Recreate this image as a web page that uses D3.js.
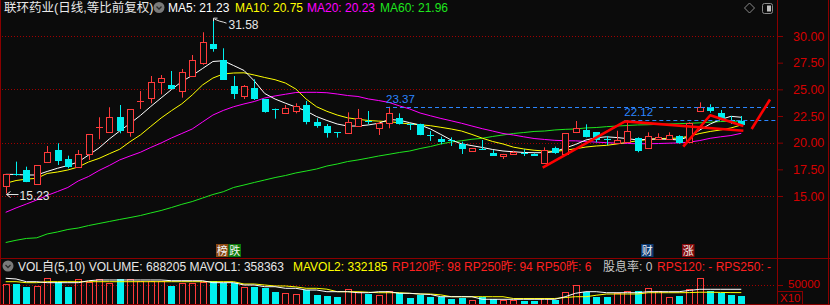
<!DOCTYPE html>
<html><head><meta charset="utf-8">
<script src="https://cdn.jsdelivr.net/npm/d3@7"></script>
<style>
html,body{margin:0;padding:0;background:#0b0b0b;overflow:hidden}
svg{display:block}
text{font-family:"Liberation Sans","Noto Sans CJK SC",sans-serif}
</style></head><body>
<svg id="c" width="830" height="305"></svg>
<script>
// ---------------- DATA ----------------
const stockTitle = "联环药业(日线,等比前复权)";
const openP  = [15.97,17.05,17.44,16.15,18.16,19.31,18.47,17.69,18.91,21.35, 20.97,22.38,21.03,23.88,24.22,25.66,25.41,24.87,26.28,27.44, 29.22,27.75,25.31,24.38,25.16,24.06,23.20,22.75,22.94,23.53, 21.91,21.56,21.00,20.94,21.56,22.06,21.40,21.87,22.28,21.75, 21.72,20.68,20.34,20.28,19.88,19.25,19.45,19.06,18.75,18.91, 19.05,18.94,18.07,19.53,18.91,20.97,21.19,20.97,20.34,20.00, 20.03,20.47,19.53,20.34,20.37,20.63,20.09,23.00,23.37,22.75, 22.15,22.06];
const highP  = [17.03,18.22,17.75,17.88,19.69,19.94,18.78,19.31,20.78,22.38, 23.32,23.53,23.13,24.84,26.25,26.34,26.72,26.91,28.22,30.35, 31.58,28.85,26.25,25.40,25.94,24.10,23.20,23.53,23.69,23.91, 22.28,21.75,21.00,22.84,23.16,22.97,21.95,23.37,22.75,21.81, 21.78,21.09,20.56,20.50,20.09,19.50,20.25,19.31,18.95,19.25, 19.38,19.00,19.56,19.63,20.90,22.03,21.72,21.00,20.63,21.12, 22.12,20.50,20.97,20.88,20.97,20.70,21.90,23.78,23.60,23.06, 22.50,22.50];
const lowP   = [15.23,16.90,16.30,16.15,18.16,17.91,17.60,17.69,18.38,20.32, 20.97,20.88,20.56,23.16,23.69,24.53,25.00,24.22,26.28,27.30, 28.53,25.88,24.09,24.09,24.00,22.81,22.25,22.70,22.75,21.72, 21.40,20.47,20.47,20.90,21.50,21.72,20.72,21.35,21.70,21.19, 20.70,20.16,19.85,19.69,18.94,19.22,19.31,18.75,18.47,18.90, 18.75,18.75,18.00,18.95,18.90,20.90,20.50,20.03,19.78,19.97, 20.00,19.10,19.50,20.30,20.35,19.90,20.00,22.95,22.81,22.10, 21.75,21.60];
const closeP = [17.03,16.98,16.34,17.88,19.15,18.31,17.69,18.91,20.78,21.45, 22.38,21.12,23.13,23.95,25.66,26.03,25.03,26.60,27.75,29.41, 28.78,25.88,24.56,25.31,24.09,22.90,23.14,23.22,23.47,21.97, 21.59,20.94,20.96,21.91,22.28,22.00,21.87,22.75,21.72,21.68, 20.72,20.62,20.03,20.22,19.41,19.47,19.40,18.78,18.94,19.10, 19.00,18.78,19.31,19.00,20.88,21.35,20.56,20.25,20.28,20.25, 21.09,19.22,20.63,20.50,20.69,19.94,21.81,23.37,22.97,22.19, 22.10,21.66];

const ma5  = [17.03,17.02,16.97,16.97,17.30,17.60,17.86,18.19,18.84,19.50, 20.34,21.09,21.80,22.55,23.39,24.19,24.98,25.73,26.30,26.95, 27.61,27.68,27.23,26.77,25.78,24.61,24.09,23.70,23.34,22.97, 22.45,22.08,21.75,21.56,21.56,21.66,21.82,22.17,22.11,21.87, 21.66,21.28,20.77,20.25,19.89,19.72,19.55,19.36,19.22,19.15, 19.08,19.06,19.06,19.15,19.50,19.83,20.25,20.46,20.55,20.48, 20.38,20.25,20.33,20.34,20.32,20.25,20.58,21.19,21.75,22.17, 22.47,22.38];
const ma10 = [16.19,16.45,16.58,16.66,17.11,17.25,17.44,17.72,18.19,18.52, 18.96,19.38,20.09,20.72,21.52,22.31,23.00,23.64,24.47,25.41, 26.06,26.44,26.53,26.55,26.34,26.11,25.90,25.59,25.03,24.09, 23.37,22.94,22.59,22.33,22.19,22.08,22.02,21.97,21.86,21.75, 21.68,21.59,21.44,21.28,21.09,20.77,20.42,20.11,19.88,19.58, 19.41,19.29,19.22,19.17,19.29,19.43,19.59,19.69,19.75,19.88, 20.03,20.18,20.30,20.38,20.41,20.42,20.63,20.86,21.05,21.19, 21.38,21.66];
const ma20 = [13.47,13.88,14.25,14.63,15.05,15.42,15.80,16.41,16.83,17.39, 17.86,18.38,18.75,19.10,19.55,19.97,20.44,20.86,21.28,21.94, 22.59,23.02,23.37,23.63,23.86,24.19,24.38,24.54,24.70,24.72, 24.72,24.68,24.56,24.42,24.33,24.10,23.95,23.77,23.45,23.16, 22.78,22.52,22.27,22.05,21.82,21.56,21.31,21.09,20.86,20.72, 20.55,20.39,20.30,20.22,20.18,20.17,20.11,20.05,20.00,19.95, 19.93,19.90,19.90,19.92,19.95,19.98,20.05,20.20,20.41,20.55, 20.67,20.88];
const ma60 = [10.64,10.85,11.02,11.08,11.44,11.63,11.86,12.00,12.23,12.42, 12.61,12.80,12.98,13.17,13.41,13.64,13.92,14.22,14.48,14.81, 15.14,15.40,15.80,16.03,16.27,16.50,16.73,16.92,17.16,17.34, 17.53,17.81,18.00,18.23,18.38,18.56,18.75,18.91,19.08,19.22, 19.45,19.64,19.88,20.06,20.18,20.32,20.41,20.58,20.72,20.86, 20.95,21.05,21.09,21.19,21.25,21.28,21.38,21.42,21.50,21.56, 21.61,21.66,21.68,21.72,21.75,21.78,21.82,21.86,21.92,21.98, 22.00,22.03];

// volume in thousands of shares
const volumeK = [526,526,455,474,676,587,439,650,587,650, 561,650,650,613,613,613,474,561,561,587, 605,561,561,439,455,413,324,297,263,368, 237,211,176,387,324,263,237,350,282,166, 237,192,176,124,150,105,176,124,105,105, 87,87,150,105,308,500,324,192,192,282, 342,342,413,342,192,218,387,688,350,297, 237,211];
const mavol1K = [676,658,587,587,561,561,561,561,613,632, 632,632,632,632,632,632,613,613,613,613, 561,561,561,500,500,455,455,413,413,368, 368,324,324,324,297,297,324,324,282,282, 263,250,192,192,192,192,124,124,124,124, 124,124,124,124,192,282,324,324,297,297, 297,297,324,324,324,324,358,387,387,387, 387,387];
const mavol2K = [587,587,561,561,587,587,587,587,587,587, 587,587,587,587,587,587,587,587,587,587, 587,587,587,526,526,500,474,474,450,413, 413,390,324,324,324,310,297,297,297,280, 263,263,240,192,192,192,192,192,192,145, 145,145,145,145,170,192,192,230,263,263, 263,263,297,297,297,297,300,310,310,305, 300,300];

const priceTicks = [15,17.5,20,22.5,25,27.5,30];
const gridLevels = [15,20,25,30];
const volTicks = [500000];

const maLegend = [
  {name:"MA5",  value:"21.23", key:"ma5"},
  {name:"MA10", value:"20.75", key:"ma10"},
  {name:"MA20", value:"20.23", key:"ma20"},
  {name:"MA60", value:"21.96", key:"ma60"}
];
const volHeader = [
  {text:"VOL自(5,10) VOLUME: 688205 MAVOL1: 358363", key:"white"},
  {text:"MAVOL2: 332185", key:"yellow"},
  {text:"RP120昨: 98 RP250昨: 94 RP50昨: 6", key:"red"},
  {text:"股息率: 0", key:"gray"},
  {text:"RPS120: - RPS250: -", key:"red"}
];
// hand-drawn trend lines: [candle index, price]
const trendLines = [
  [[51.83,17.65],[59.78,22.00]],
  [[59.78,22.00],[71.2,21.12]],
  [[65.4,19.62],[68.0,22.57],[71.2,21.56]],
  [[72.0,21.28],[73.77,24.05]]
];
const platformMarks = [{i:37, price:23.37},{i:60, price:22.12}];
const highMark = {i:20, price:31.58};
const lowMark  = {i:0, price:15.23};
const eventTags = [
  {i:21, chars:["榜","跌"]},
  {i:62, chars:["财"]},
  {i:66, chars:["涨"]}
];

// ---------------- STYLE ----------------
const C = {
  bg:"#0b0b0b", frame:"#8a0000", grid:"#a00000", axisText:"#d40000",
  up:"#ff3b3b", down:"#00f0f0",
  ma5:"#ffffff", ma10:"#ffff00", ma20:"#ff00ff", ma60:"#1ee61e",
  white:"#e8e8e8", yellow:"#ffff00", red:"#ff2020", gray:"#c8c8c8",
  blue:"#2b86ff", draw:"#ff0000"
};
const tagBg = {"榜":"#8a4812","跌":"#0b7a0b","财":"#0d3b73","涨":"#860b0b"};

const W=830,H=305;
const svg=d3.select("#c");
svg.append("rect").attr("width",W).attr("height",H).attr("fill",C.bg);

const n=closeP.length;
const x=d3.scaleLinear().domain([0,n-1]).range([5.7,741.3]);
const y=d3.scaleLinear().domain([15,30]).range([196,36]);
const yv=d3.scaleLinear().domain([0,500000]).range([304,285]);
const px=i=>Math.round(x(i));

const defs=svg.append("defs");
defs.append("clipPath").attr("id","mainClip").append("rect").attr("x",1).attr("y",15).attr("width",776).attr("height",243);
defs.append("clipPath").attr("id","volClip").append("rect").attr("x",1).attr("y",275).attr("width",776).attr("height",29);

// grid
svg.append("g").selectAll("line").data(gridLevels).join("line")
  .attr("x1",2).attr("x2",776)
  .attr("y1",d=>Math.round(y(d))+0.5).attr("y2",d=>Math.round(y(d))+0.5)
  .attr("stroke",C.grid).attr("stroke-dasharray","1,2");
svg.append("g").selectAll("line").data(volTicks).join("line")
  .attr("x1",2).attr("x2",776)
  .attr("y1",d=>Math.round(yv(d))+0.5).attr("y2",d=>Math.round(yv(d))+0.5)
  .attr("stroke",C.grid).attr("stroke-dasharray","1,2");

const main=svg.append("g").attr("clip-path","url(#mainClip)");

// MA lines
const maData={ma5,ma10,ma20,ma60};
const line=d3.line().x((d,i)=>x(i)).y(d=>y(d));
["ma60","ma20","ma10","ma5"].forEach(k=>{
  main.append("path").datum(maData[k]).attr("d",line)
    .attr("fill","none").attr("stroke",C[k]).attr("stroke-width",1);
});

// candles
const candles=d3.range(n).map(i=>({i,o:openP[i],h:highP[i],l:lowP[i],c:closeP[i]}));
const cg=main.append("g").selectAll("g").data(candles).join("g");
cg.append("line")
  .attr("x1",d=>px(d.i)+0.5).attr("x2",d=>px(d.i)+0.5)
  .attr("y1",d=>y(d.h)).attr("y2",d=>y(d.l))
  .attr("stroke",d=>d.c>=d.o?C.up:C.down);
cg.each(function(d){
  const g=d3.select(this);
  const t=Math.round(y(Math.max(d.o,d.c))), b=Math.round(y(Math.min(d.o,d.c)));
  const h=Math.max(b-t,1);
  if(d.c>=d.o){
    if(h<=1){
      g.append("line").attr("x1",px(d.i)-3).attr("x2",px(d.i)+4).attr("y1",t+0.5).attr("y2",t+0.5).attr("stroke",C.up);
    } else {
      g.append("rect").attr("x",px(d.i)-3+0.5).attr("y",t+0.5).attr("width",6).attr("height",h)
        .attr("fill",C.bg).attr("stroke",C.up);
    }
  } else {
    g.append("rect").attr("x",px(d.i)-3).attr("y",t).attr("width",7).attr("height",h).attr("fill",C.down);
  }
});

// platform dashed lines
platformMarks.forEach(p=>{
  const yy=Math.round(y(p.price))+0.5;
  main.append("line").attr("x1",x(p.i)-3).attr("x2",777).attr("y1",yy).attr("y2",yy)
    .attr("stroke",C.blue).attr("stroke-dasharray","4,3");
  svg.append("text").attr("x",x(p.i)-3).attr("y",yy-5).attr("fill",C.blue)
    .attr("font-size",11.5).text(p.price.toFixed(2));
});

// trend lines
const tl=d3.line().x(d=>x(d[0])).y(d=>y(d[1]));
trendLines.forEach(t=>{
  main.append("path").datum(t).attr("d",tl).attr("fill","none")
    .attr("stroke",C.draw).attr("stroke-width",2.6).attr("stroke-linejoin","round");
});

// high / low marks
{
  const hx=px(highMark.i)+0.5, hy=y(highMark.price);
  svg.append("path").attr("d",`M${hx},${hy+2}L${hx},${hy-1}L${hx+4},${hy-1}M${hx+1},${hy}L${hx+6},${hy+2}L${hx+10},${hy+3}L${hx+13},${hy+4}`)
    .attr("fill","none").attr("stroke","#e0e0e0");
  svg.append("text").attr("x",hx+15).attr("y",hy+9.5).attr("fill","#e8e8e8").attr("font-size",12).text(highMark.price.toFixed(2));
  const lx=px(lowMark.i)+0.5, ly=Math.round(y(lowMark.price))+0.5;
  svg.append("path").attr("d",`M${lx+12},${ly}L${lx},${ly}M${lx+4},${ly-3}L${lx},${ly}L${lx+4},${ly+3}`)
    .attr("fill","none").attr("stroke","#e0e0e0");
  svg.append("text").attr("x",lx+13).attr("y",ly+5).attr("fill","#e8e8e8").attr("font-size",12).text(lowMark.price.toFixed(2));
}

// event tags
eventTags.forEach(e=>{
  e.chars.forEach((ch,k)=>{
    const bx=px(e.i)-7+k*12.5;
    svg.append("rect").attr("x",bx).attr("y",244).attr("width",12.5).attr("height",13).attr("fill",tagBg[ch]);
    svg.append("text").attr("x",bx+6.25).attr("y",255).attr("text-anchor","middle")
      .attr("fill","#f2f2f2").attr("font-size",11).text(ch);
  });
});

// volume
const vg=svg.append("g").attr("clip-path","url(#volClip)");
const vols=volumeK.map((v,i)=>({i,v:v*1000,up:closeP[i]>=openP[i]}));
vols.forEach(d=>{
  const t=Math.round(yv(d.v)), b=304;
  if(d.up){
    vg.append("rect").attr("x",px(d.i)-3+0.5).attr("y",t+0.5).attr("width",6).attr("height",b-t)
      .attr("fill","none").attr("stroke",C.up);
  } else {
    vg.append("rect").attr("x",px(d.i)-3).attr("y",t).attr("width",7).attr("height",b-t).attr("fill",C.down);
  }
});
const vline=d3.line().x((d,i)=>x(i)).y(d=>yv(d*1000));
vg.append("path").datum(mavol2K).attr("d",vline).attr("fill","none").attr("stroke",C.yellow);
vg.append("path").datum(mavol1K).attr("d",vline).attr("fill","none").attr("stroke","#ffffff");

// axes
const ax=svg.append("g").attr("transform","translate(777,0)")
  .call(d3.axisRight(y).tickValues(priceTicks).tickSize(6).tickPadding(10).tickFormat(d3.format(".2f")));
ax.select(".domain").remove();
ax.selectAll("line").attr("stroke",C.frame);
ax.selectAll("text").attr("fill",C.axisText).attr("font-size",12.5).attr("font-family","Liberation Sans");
const vax=svg.append("g").attr("transform","translate(777,0)")
  .call(d3.axisRight(yv).tickValues(volTicks).tickSize(6).tickPadding(5).tickFormat(d=>d3.format("d")(d/10)));
vax.select(".domain").remove();
vax.selectAll("line").attr("stroke",C.frame);
vax.selectAll("text").attr("fill",C.axisText).attr("font-size",11.5).attr("dy","0.2em").attr("font-family","Liberation Sans");
svg.append("rect").attr("x",777.5).attr("y",291.5).attr("width",25).attr("height",13).attr("fill","none").attr("stroke",C.frame);
svg.append("text").attr("x",780).attr("y",302).attr("fill",C.axisText).attr("font-size",11.5).text("X10");

// frame
const fr=svg.append("g").attr("stroke",C.frame).attr("stroke-width",1);
fr.append("line").attr("x1",0.5).attr("x2",0.5).attr("y1",0).attr("y2",H);
fr.append("line").attr("x1",777.5).attr("x2",777.5).attr("y1",0).attr("y2",H);
fr.append("line").attr("x1",828.5).attr("x2",828.5).attr("y1",0).attr("y2",H);
fr.append("line").attr("x1",0).attr("x2",W).attr("y1",258.5).attr("y2",258.5);
fr.append("line").attr("x1",0).attr("x2",W).attr("y1",304.5).attr("y2",304.5);

// header
svg.append("text").attr("x",4).attr("y",12).attr("fill",C.white).attr("font-size",12.5).text(stockTitle);
function chevronIcon(cx,cy){
  svg.append("circle").attr("cx",cx).attr("cy",cy).attr("r",5.5).attr("fill","#7a7a7a");
  svg.append("path").attr("d",`M${cx-2.5},${cy-1}L${cx},${cy+1.5}L${cx+2.5},${cy-1}`).attr("fill","none").attr("stroke","#2a2a2a").attr("stroke-width",1.3);
}
chevronIcon(159,7.5);
const legX=[168,235,307,380];
maLegend.forEach((m,k)=>{
  svg.append("text").attr("x",legX[k]).attr("y",12).attr("fill",C[m.key]).attr("font-size",12)
    .text(`${m.name}: ${m.value}`);
});
// top-right icons
svg.append("path").attr("d","M749.5,3L754.5,8L749.5,13L744.5,8Z").attr("fill","none").attr("stroke","#8a8a8a");
svg.append("rect").attr("x",762.5).attr("y",3.5).attr("width",10).attr("height",10).attr("rx",2).attr("fill","none").attr("stroke","#8a8a8a");
svg.append("rect").attr("x",767).attr("y",5.5).attr("width",4).attr("height",6).attr("fill","#c0c0c0");

// volume header
chevronIcon(8,266);
const vhX=[18,293,392,603,657];
volHeader.forEach((h,k)=>{
  svg.append("text").attr("x",vhX[k]).attr("y",270.5).attr("fill",C[h.key]).attr("font-size",12).text(h.text);
});
</script>
</body></html>
